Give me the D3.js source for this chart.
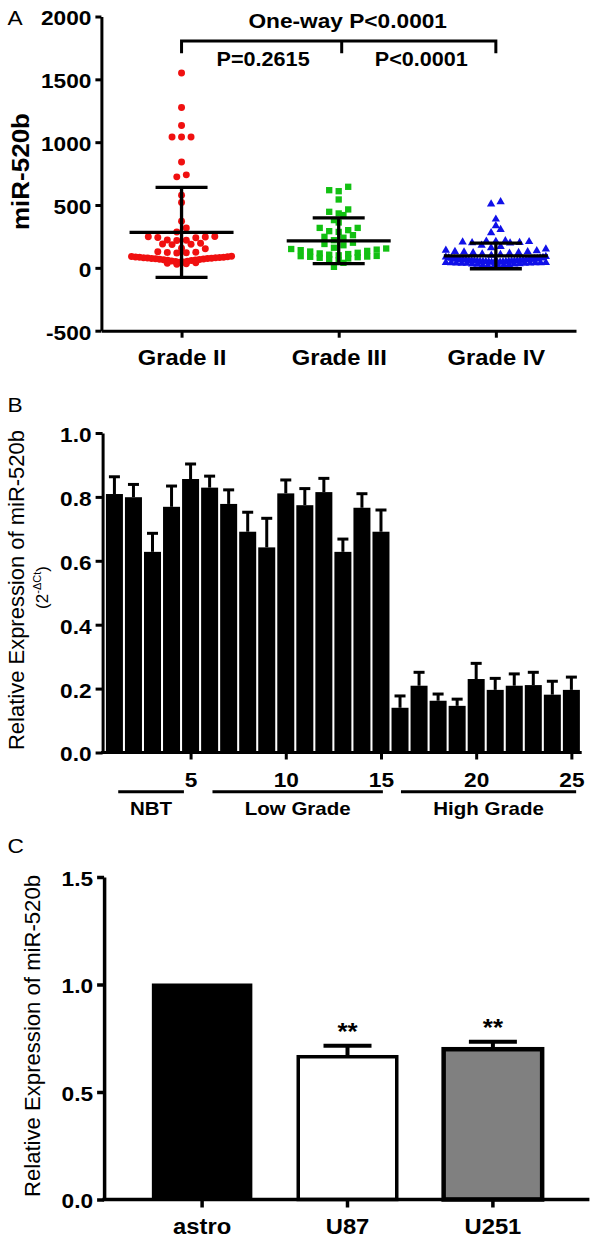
<!DOCTYPE html>
<html><head><meta charset="utf-8">
<script src="https://cdn.jsdelivr.net/npm/d3@7"></script>
<style>
body{margin:0;background:#fff}
svg{display:block}
text{font-family:Arial,"Liberation Sans",Helvetica,sans-serif;fill:#000}
</style>
</head><body>
<svg id="chart" width="600" height="1243"></svg>
<script>
// ---------------- Panel A data ----------------
const gradeCategories = ["Grade II", "Grade III", "Grade IV"];
const gradeII = [1551, 1276, 1133, 1042, 1042, 1042, 843, 740, 724, 578, 520, 371, 318, 286,
  250, 247, 245, 242, 240, 222, 220, 218, 195, 190, 188, 185, 156, 152, 128, 125, 122, 120, 118,
  92, 90, 88, 86, 85, 84, 82, 80, 80, 78, 77, 75, 74, 72, 70, 68, 66, 64, 62, 60, 58, 55, 52, 50, 47, 44, 40, 36, 32, 28];
const gradeIII = [645, 618, 610, 544, 465, 446, 433, 420, 380, 361, 318, 318, 300, 292, 286, 260, 247, 240,
  220, 200, 190, 180, 160, 154, 150, 145, 141, 135, 130, 120, 115, 110, 105, 100, 95, 93, 90, 88, 85, 80, 75, 70, 60, 40, 8];
const gradeIV = [525, 507, 387, 334, 305, 279,
  215, 212, 210, 208, 205, 202, 200, 198, 180, 170, 160, 150,
  140, 135, 130, 127, 125, 122, 120, 115, 110, 105, 100,
  90, 85, 82, 80, 78, 75, 72, 70, 70, 68, 66, 65, 62, 60, 60, 58, 56, 55, 54, 52, 50, 50, 48, 46, 45, 44, 42, 40, 40, 38,
  36, 35, 32, 30, 28, 25, 22, 18, 12, 5,
  70, 65, 63, 60, 57, 55, 52, 50, 48, 45, 42, 40, 38, 35, 30, 20];
const gradeMeans = [282, 215, 95];
const gradeSDs = [358, 182, 102];
const aYTicks = [-500, 0, 500, 1000, 1500, 2000];
const aYLabel = "miR-520b";
const pOverall = "One-way P<0.0001";
const pPairs = ["P=0.2615", "P<0.0001"];

// ---------------- Panel B data ----------------
const sampleIds = [1, 2, 3, 4, 5, 6, 7, 8, 9, 10, 11, 12, 13, 14, 15, 16, 17, 18, 19, 20, 21, 22, 23, 24, 25];
const sampleValues = [0.809, 0.799, 0.628, 0.769, 0.856, 0.829, 0.778, 0.691, 0.642, 0.811, 0.774, 0.815, 0.628, 0.766, 0.691,
  0.140, 0.209, 0.162, 0.146, 0.230, 0.196, 0.209, 0.211, 0.181, 0.196];
const sampleErrors = [0.054, 0.040, 0.058, 0.065, 0.047, 0.036, 0.044, 0.061, 0.091, 0.042, 0.052, 0.043, 0.040, 0.044, 0.068,
  0.037, 0.042, 0.021, 0.021, 0.049, 0.036, 0.037, 0.040, 0.042, 0.040];
const bYTicks = [0, 0.2, 0.4, 0.6, 0.8, 1.0];
const bXTicks = [5, 10, 15, 20, 25];
const groupNames = ["NBT", "Low Grade", "High Grade"];
const groupStarts = [1.2, 6.15, 16.05];   // in sample-number units
const groupEnds = [4.65, 15.1, 25.25];
const bYLabel = "Relative Expression of miR-520b";

// ---------------- Panel C data ----------------
const cellLines = ["astro", "U87", "U251"];
const cellValues = [1.0, 0.664, 0.699];
const cellErrors = [0, 0.051, 0.035];
const cellStars = ["", "**", "**"];
const cYTicks = [0, 0.5, 1.0, 1.5];
const cYLabel = "Relative Expression of miR-520b";

// ---------------- styles ----------------
const groupColors = ["#f01010", "#12c012", "#1010e8"];
const cellFills = ["#000000", "#ffffff", "#808080"];
const cellStrokeW = [2, 3.5, 4.5];
const S = 1.08; // horizontal glyph stretch of the original figure

const svg = d3.select("#chart");

function stretch(sel, s = S) {
  sel.each(function () {
    const L = this.getComputedTextLength();
    d3.select(this).attr("textLength", L * s).attr("lengthAdjust", "spacingAndGlyphs");
  });
}
function txt(g, x, y, s, o = {}) {
  const t = g.append("text").attr("x", x).attr("y", y).text(s)
    .attr("font-size", o.size || 20).attr("font-weight", o.weight || "normal")
    .attr("text-anchor", o.anchor || "start");
  stretch(t, o.s ?? S);
  return t;
}
function vlabel(g, x, y, s, size, len, weight) {
  return g.append("text").attr("transform", `translate(${x},${y}) rotate(-90)`)
    .attr("text-anchor", "middle").attr("font-size", size).attr("font-weight", weight)
    .attr("textLength", len).attr("lengthAdjust", "spacingAndGlyphs").text(s);
}
function styleAxis(g, size, weight, sw = 3) {
  g.attr("font-size", size).attr("font-family", 'Arial,"Liberation Sans",sans-serif').attr("font-weight", weight);
  g.select(".domain").attr("stroke-width", sw).attr("stroke", "#000");
  g.selectAll(".tick line").attr("stroke-width", sw).attr("stroke", "#000");
  g.selectAll(".tick text").attr("fill", "#000");
}
const plain = d => String(d);

// ======================= PANEL A =======================
const A = svg.append("g");
const ay = d3.scaleLinear().domain([-500, 2000]).range([330.7, 16.5]);
const ax = d3.scalePoint().domain(gradeCategories).range([101.4, 576]).padding(0.51);

txt(A, 7.5, 25, "A", { size: 21 });

const ayAxis = A.append("g").attr("transform", "translate(101.4,0)")
  .call(d3.axisLeft(ay).tickValues(aYTicks).tickFormat(plain).tickSize(6).tickSizeOuter(0).tickPadding(4));
styleAxis(ayAxis, 21, "bold");
ayAxis.selectAll(".tick text").attr("dy", "0.4em");
stretch(ayAxis.selectAll(".tick text"));

const axAxis = A.append("g").attr("transform", "translate(0,330.7)")
  .call(d3.axisBottom(ax).tickSize(7).tickSizeOuter(0));
styleAxis(axAxis, 22, "bold");
axAxis.selectAll(".tick text").attr("y", 34.5).attr("dy", 0);
stretch(axAxis.selectAll(".tick text"));

vlabel(A, 28.7, 171.5, aYLabel, 23.5, 117, "bold");

// swarm layout
function swarm(values, cx, yScale, d, maxHalf, gap) {
  const pts = values.map(v => ({ v, y: yScale(v) }));
  const rows = d3.group(pts, p => Math.round(p.y / d));
  const out = [];
  for (const [, row] of rows) {
    row.sort((a, b) => a.v - b.v);
    const n = row.length;
    const s = n > 1 ? Math.min(gap, 2 * maxHalf / (n - 1)) : 0;
    row.forEach((p, i) => {
      let off;
      if (n % 2 === 1) { const k = Math.ceil(i / 2); off = i === 0 ? 0 : (i % 2 === 1 ? -k : k); }
      else { const k = Math.floor(i / 2) + 0.5; off = i % 2 === 0 ? -k : k; }
      out.push({ v: p.v, x: cx + off * s, y: p.y });
    });
  }
  return out;
}
const groupsA = [gradeII, gradeIII, gradeIV];
const symbols = [d3.symbolCircle, d3.symbolSquare, d3.symbolTriangle];
const symSizes = [38, 40, 30];
groupsA.forEach((vals, gi) => {
  const pts = swarm(vals, ax(gradeCategories[gi]), ay, 7, 50, 9.5);
  A.append("g").selectAll("path").data(pts).join("path")
    .attr("transform", p => `translate(${p.x},${p.y})`)
    .attr("d", d3.symbol().type(symbols[gi]).size(symSizes[gi]))
    .attr("fill", groupColors[gi]);
});
// mean ± SD
gradeCategories.forEach((c, i) => {
  const cx = ax(c), m = gradeMeans[i], sd = gradeSDs[i];
  const g = A.append("g").attr("stroke", "#000").attr("stroke-width", 3.3);
  g.append("line").attr("x1", cx).attr("x2", cx).attr("y1", ay(m - sd)).attr("y2", ay(m + sd));
  g.append("line").attr("x1", cx - 26).attr("x2", cx + 26).attr("y1", ay(m + sd)).attr("y2", ay(m + sd));
  g.append("line").attr("x1", cx - 26).attr("x2", cx + 26).attr("y1", ay(m - sd)).attr("y2", ay(m - sd));
  g.append("line").attr("x1", cx - 52).attr("x2", cx + 52).attr("y1", ay(m)).attr("y2", ay(m));
});
// bracket
{
  const x1 = ax(gradeCategories[0]), x2 = ax(gradeCategories[2]), xm = (x1 + x2) / 2 + 3;
  A.append("path").attr("d", `M${x1},53.3V41H${x2}V53.3M${xm},41V53.3`)
    .attr("fill", "none").attr("stroke", "#000").attr("stroke-width", 3);
  txt(A, xm + 6, 28, pOverall, { size: 21, weight: "bold", anchor: "middle" });
  txt(A, (x1 + ax(gradeCategories[1])) / 2 + 3, 66, pPairs[0], { size: 20, weight: "bold", anchor: "middle" });
  txt(A, (ax(gradeCategories[1]) + x2) / 2 + 4, 66, pPairs[1], { size: 20, weight: "bold", anchor: "middle" });
}

// ======================= PANEL B =======================
const B = svg.append("g");
const by = d3.scaleLinear().domain([0, 1]).range([752.5, 433]);
const bx = d3.scaleLinear().domain([0.5, 25.5]).range([104.9, 580.9]);
const bw = 17;

txt(B, 7.5, 411.7, "B", { size: 21 });

B.append("g").selectAll("rect").data(sampleIds).join("rect")
  .attr("x", (d) => bx(d) - bw / 2).attr("width", bw)
  .attr("y", (d, i) => by(sampleValues[i])).attr("height", (d, i) => by(0) - by(sampleValues[i]))
  .attr("fill", "#000");
const eb = B.append("g").attr("stroke", "#000").attr("stroke-width", 3);
sampleIds.forEach((d, i) => {
  const x = bx(d), y0 = by(sampleValues[i]), y1 = by(sampleValues[i] + sampleErrors[i]);
  eb.append("line").attr("x1", x).attr("x2", x).attr("y1", y0).attr("y2", y1);
  eb.append("line").attr("x1", x - 5.5).attr("x2", x + 5.5).attr("y1", y1).attr("y2", y1);
});

const byAxis = B.append("g").attr("transform", "translate(102.6,0)")
  .call(d3.axisLeft(by).tickValues(bYTicks).tickFormat(d3.format(".1f")).tickSize(7).tickSizeOuter(0).tickPadding(4));
styleAxis(byAxis, 21, "bold");
byAxis.selectAll(".tick text").attr("dy", "0.4em");
stretch(byAxis.selectAll(".tick text"));

const bxAxis = B.append("g").attr("transform", `translate(0,${by(0)})`)
  .call(d3.axisBottom(bx).tickValues(bXTicks).tickSize(7).tickSizeOuter(0));
styleAxis(bxAxis, 21, "bold");
bxAxis.select(".domain").attr("d", "M101.1,0H581.7");
bxAxis.selectAll(".tick text").attr("y", 34.5).attr("dy", 0);
stretch(bxAxis.selectAll(".tick text"));

groupNames.forEach((n, i) => {
  B.append("line").attr("x1", bx(groupStarts[i])).attr("x2", bx(groupEnds[i]))
    .attr("y1", 791.7).attr("y2", 791.7).attr("stroke", "#000").attr("stroke-width", 3);
  txt(B, (bx(groupStarts[i]) + bx(groupEnds[i])) / 2, 815, n, { size: 19, weight: "bold", anchor: "middle" });
});

vlabel(B, 23.7, 590, bYLabel, 21.4, 320, "normal");
{
  const t = B.append("text").attr("transform", "translate(48,587.5) rotate(-90)")
    .attr("text-anchor", "middle").attr("font-size", 17);
  t.append("tspan").text("(2");
  t.append("tspan").attr("font-size", 11).attr("dy", -7).text("-ΔCt");
  t.append("tspan").attr("dy", 7).text(")");
}

// ======================= PANEL C =======================
const C = svg.append("g");
const cy = d3.scaleLinear().domain([0, 1.5]).range([1199.5, 877]);
const cx = d3.scaleBand().domain(cellLines).range([104, 591]).paddingInner(0.3225).paddingOuter(0.336);

txt(C, 7.5, 853, "C", { size: 21 });

C.append("g").selectAll("rect").data(cellLines).join("rect")
  .attr("x", d => cx(d)).attr("width", cx.bandwidth())
  .attr("y", (d, i) => cy(cellValues[i])).attr("height", (d, i) => cy(0) - cy(cellValues[i]))
  .attr("fill", (d, i) => cellFills[i]).attr("stroke", "#000").attr("stroke-width", (d, i) => cellStrokeW[i]);
const ceb = C.append("g").attr("stroke", "#000").attr("stroke-width", 4);
cellLines.forEach((d, i) => {
  if (!cellErrors[i]) return;
  const x = cx(d) + cx.bandwidth() / 2, y0 = cy(cellValues[i]), y1 = cy(cellValues[i] + cellErrors[i]);
  ceb.append("line").attr("x1", x).attr("x2", x).attr("y1", y0).attr("y2", y1);
  ceb.append("line").attr("x1", x - 24).attr("x2", x + 24).attr("y1", y1).attr("y2", y1);
});
cellLines.forEach((d, i) => {
  if (!cellStars[i]) return;
  txt(C, cx(d) + cx.bandwidth() / 2, cy(cellValues[i] + cellErrors[i]) - 6, cellStars[i], { size: 24, weight: "bold", anchor: "middle" });
});

const cyAxis = C.append("g").attr("transform", "translate(104.1,0)")
  .call(d3.axisLeft(cy).tickValues(cYTicks).tickFormat(d3.format(".1f")).tickSize(7).tickSizeOuter(0).tickPadding(4));
styleAxis(cyAxis, 21, "bold", 3.5);
cyAxis.selectAll(".tick text").attr("dy", "0.4em");
stretch(cyAxis.selectAll(".tick text"));

const cxAxis = C.append("g").attr("transform", `translate(0,${cy(0)})`)
  .call(d3.axisBottom(cx).tickSize(8).tickSizeOuter(0));
styleAxis(cxAxis, 22, "bold", 3.5);
cxAxis.select(".domain").attr("d", "M102.4,0H589.4");
cxAxis.selectAll(".tick text").attr("y", 34).attr("dy", 0);
stretch(cxAxis.selectAll(".tick text"));

vlabel(C, 40.2, 1036, cYLabel, 21.4, 322, "normal");
</script>
</body></html>
